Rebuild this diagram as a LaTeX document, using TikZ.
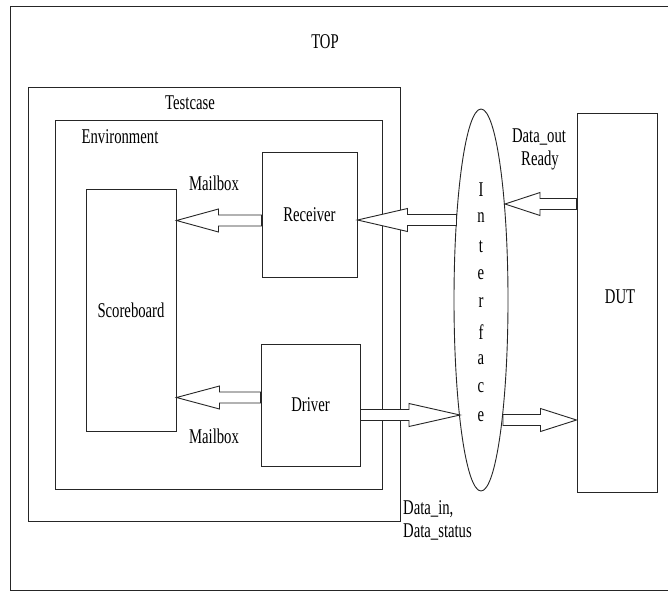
\documentclass[tikz,border=0pt]{standalone}
\usepackage{fontspec}
\usepackage{graphicx}
\setmainfont{Liberation Serif}
\usetikzlibrary{calc,shapes.geometric}
\newcommand\tx[1]{\scalebox{0.7}[1]{#1}}
\newcommand\blockarrow[3]{%
 \draw[arrowline] let \p1=(#1), \p2=(#2), \n1={ifthenelse(\x2>\x1,1,-1)} in
 (\x1,\y1+5.5pt) -- ({\x2-\n1*#3pt},\y1+5.5pt) -- ({\x2-\n1*#3pt},\y1+11.5pt) -- (\x2,\y1)
 -- ({\x2-\n1*#3pt},\y1-11.5pt) -- ({\x2-\n1*#3pt},\y1-5.5pt) -- (\x1,\y1-5.5pt) -- cycle;}
\tikzset{
  box/.style={draw=black!85, line width=1pt, rectangle, inner sep=0pt, font=\fontsize{21}{24}\selectfont},
  lbl/.style={inner sep=0pt, font=\fontsize{21}{24}\selectfont},
  arrowline/.style={draw=black!85, line width=0.9pt, fill=white, line join=miter},
}
\begin{document}
\begin{tikzpicture}[x=1pt,y=-1pt]
\useasboundingbox (0,0) rectangle (668,592);
\fill[white] (0,0) rectangle (668,592);
% TOP frame
\draw[black!85, line width=1pt] (668,6) -- (10,6) -- (10,590) -- (668,590);
\node[lbl] (top) at (325,42) {\tx{TOP}};
% Testcase
\node[box, minimum width=372pt, minimum height=434pt] (testcase) at (214,304) {};
\node[lbl] (testcaselbl) at (190,103) {\tx{Testcase}};
% Environment
\node[box, minimum width=327pt, minimum height=369pt] (env) at (218.5,304.5) {};
\node[lbl] (envlbl) at (120,137) {\tx{Environment}};
% Scoreboard, Receiver, Driver
\node[box, minimum width=90pt, minimum height=242pt] (score) at (131,310) {\tx{Scoreboard}};
\node[box, minimum width=95pt, minimum height=125pt] (rec) at (309.5,214.5) {\tx{Receiver}};
\node[box, minimum width=99pt, minimum height=122pt] (drv) at (310.5,405) {\tx{Driver}};
% DUT
\node[box, minimum width=80pt, minimum height=379pt] (dut) at (617,302.5) {};
\node[lbl] (dutlbl) at (620,297) {\tx{DUT}};
% Interface ellipse
\node[draw=black!85, line width=0.9pt, ellipse, minimum width=54pt, minimum height=382pt, inner sep=0pt] (iface) at (481,300) {};
\foreach \ch/\yy [count=\i] in {I/190,n/218,t/247,e/275,r/303,f/332,a/360,c/388,e/417}
  \node[lbl] (if\i) at (481,\yy) {\tx{\ch}};
% ellipse boundary points
\coordinate (i1) at (456.5,220);
\coordinate (i2) at (505,204);
\coordinate (i3) at (460,415);
\coordinate (i4) at (503,420);
% arrows
\blockarrow{rec.west |- 0,220.5}{score.east |- 0,220.5}{42}
\blockarrow{i1}{rec.east |- i1}{50}
\blockarrow{dut.west |- i2}{i2}{35}
\blockarrow{drv.west |- 0,397.5}{score.east |- 0,397.5}{43}
\blockarrow{drv.east |- i3}{i3}{51}
\blockarrow{i4}{dut.west |- i4}{36}
% labels
\node[lbl] (mb1) at (214,183) {\tx{Mailbox}};
\node[lbl] (mb2) at (214,436) {\tx{Mailbox}};
\node[lbl] (dout) at (539,137) {\tx{Data\_out}};
\node[lbl] (rdy) at (540,160) {\tx{Ready}};
\node[lbl, anchor=west] (din) at (403,509) {\tx{Data\_in,}};
\node[lbl, anchor=west] (dst) at (403,532) {\tx{Data\_status}};
\end{tikzpicture}
\end{document}
